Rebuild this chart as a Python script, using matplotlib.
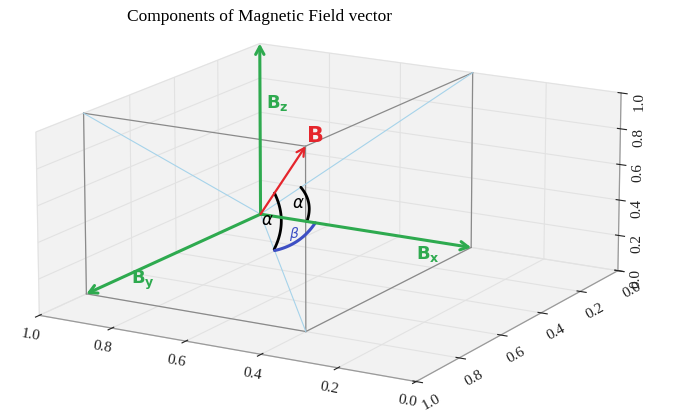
import numpy as np
import matplotlib
matplotlib.use("Agg")
import matplotlib.pyplot as plt
from mpl_toolkits.mplot3d import proj3d

plt.rcParams["font.family"] = "serif"
plt.rcParams["font.serif"] = ["Liberation Serif", "DejaVu Serif"]
plt.rcParams["mathtext.fontset"] = "dejavusans"
plt.rcParams["grid.color"] = "#e2e2e2"
plt.rcParams["grid.linewidth"] = 0.8

# vector components and where the vectors start (axis coordinates)
origin = [1.0, 0.0, 0.0]
bx = 0.6
by = 0.8
bz = 1.0
ticks = [0.0, 0.2, 0.4, 0.6, 0.8, 1.0]
title = "Components of Magnetic Field vector"

green = "#2eaa4f"
red = "#e5252c"
blue = "#3d4fc4"
gray = "#8a8a8a"
lightblue = "#a6d3ea"

W, H = 688, 412
fig = plt.figure(figsize=(W / 100, H / 100), dpi=100)
ax = fig.add_axes([-0.0234, -0.006, 1, 1], projection="3d")
ax.set_proj_type("persp", focal_length=2)
ax.set_box_aspect((1, 1, 0.44), zoom=1.486)
ax.view_init(elev=15.6, azim=120)
ax.set_xlim(0, 1)
ax.set_ylim(0, 1)
ax.set_zlim(0, 1)
ax.set_xticks(ticks)
ax.set_yticks(ticks)
ax.set_zticks(ticks)
for a in (ax.xaxis, ax.yaxis, ax.zaxis):
    a.set_pane_color((0.95, 0.95, 0.95, 1.0))
    a.line.set_color("#9a9a9a")
    a.line.set_linewidth(0.9)
    a.label.set_visible(False)
    a.offsetText.set_visible(False)
ax.tick_params(axis="x", labelsize=11, labelrotation=-10, colors="#222222", pad=-2)
ax.tick_params(axis="y", labelsize=11, labelrotation=29, colors="#222222", pad=-2)
ax.tick_params(axis="z", labelsize=11, labelrotation=90, colors="#222222", pad=-3)

O = np.array(origin)
ex = np.array([-bx, 0, 0])
ey = np.array([0, by, 0])
ez = np.array([0, 0, bz])
X, Y, Z = O + ex, O + ey, O + ez
XY, XZ, YZ = O + ex + ey, O + ex + ez, O + ey + ez
B = O + ex + ey + ez

def seg(p, q, **kw):
    ax.plot([p[0], q[0]], [p[1], q[1]], [p[2], q[2]], clip_on=False, **kw)

# box edges
for p, q in [(YZ, B), (B, XZ), (YZ, Y), (Y, XY), (XY, X), (X, XZ), (B, XY)]:
    seg(p, q, color=gray, lw=0.9)
# face diagonals from the origin
for q in (YZ, XZ, XY):
    seg(O, q, color=lightblue, lw=0.8)

ax.text(*(O + 0.67 * ez + np.array([-0.05, 0, 0])), r"$\mathbf{B}_\mathbf{z}$",
        color=green, fontsize=13, ha="center", va="center")
ax.text(*(O + 0.8 * ex + np.array([0, 0, -0.08])), r"$\mathbf{B}_\mathbf{x}$",
        color=green, fontsize=13, ha="center", va="center")
ax.text(*(O + 0.69 * ey + np.array([0, 0, -0.07])), r"$\mathbf{B}_\mathbf{y}$",
        color=green, fontsize=13, ha="center", va="center")

fig.text(0.377, 0.958, title, fontsize=12.5, ha="center", va="center",
         family="Liberation Serif")

# project 3d points to pixels for the overlay arrows and angle marks
fig.canvas.draw()
M = ax.get_proj()

def px(p):
    x2, y2, _ = proj3d.proj_transform(p[0], p[1], p[2], M)
    return np.array(ax.transData.transform((x2, y2)))

ov = fig.add_axes([0, 0, 1, 1])
ov.set_xlim(0, W)
ov.set_ylim(0, H)
ov.axis("off")

o2 = px(O)
for tip, c, lw in [(X, green, 2.2), (Y, green, 2.2), (Z, green, 2.2), (B, red, 1.6)]:
    ov.annotate("", xy=px(tip), xytext=o2,
                arrowprops=dict(arrowstyle="->,head_length=0.55,head_width=0.3",
                                color=c, lw=lw, shrinkA=0, shrinkB=0))
bp = px(B)
ov.text(bp[0] + 9, bp[1] + 9, r"$\mathbf{B}$", color=red, fontsize=16,
        ha="center", va="center")

def mark(u, v, r1, r2, bulge, color, lw):
    p1 = o2 + (px(O + u) - o2) * r1
    p2 = o2 + (px(O + v) - o2) * r2
    mid = (p1 + p2) / 2
    d = p2 - p1
    n = np.array([d[1], -d[0]]) / np.hypot(*d)
    c = mid + n * bulge
    t = np.linspace(0, 1, 40)[:, None]
    pts = (1 - t) ** 2 * p1 + 2 * (1 - t) * t * c + t ** 2 * p2
    ov.plot(pts[:, 0], pts[:, 1], color=color, lw=lw, solid_capstyle="round")
    return mid + n * bulge * 0.5

floor = ex + ey
m1 = mark(B - O, floor, 0.31, 0.3, -14, "black", 2.0)
m2 = mark(XZ - O, ex, 0.19, 0.22, -10, "black", 2.0)
m3 = mark(floor, ex, 0.31, 0.26, 10, blue, 2.2)
ov.text(m1[0] - 14, m1[1], r"$\alpha$", fontsize=12, ha="center", va="center")
ov.text(m2[0] - 10, m2[1], r"$\alpha$", fontsize=12, ha="center", va="center")
ov.text(m3[0] - 4, m3[1] + 7, r"$\beta$", fontsize=10, color=blue,
        ha="center", va="center")

fig.savefig("out.png", dpi=100)
